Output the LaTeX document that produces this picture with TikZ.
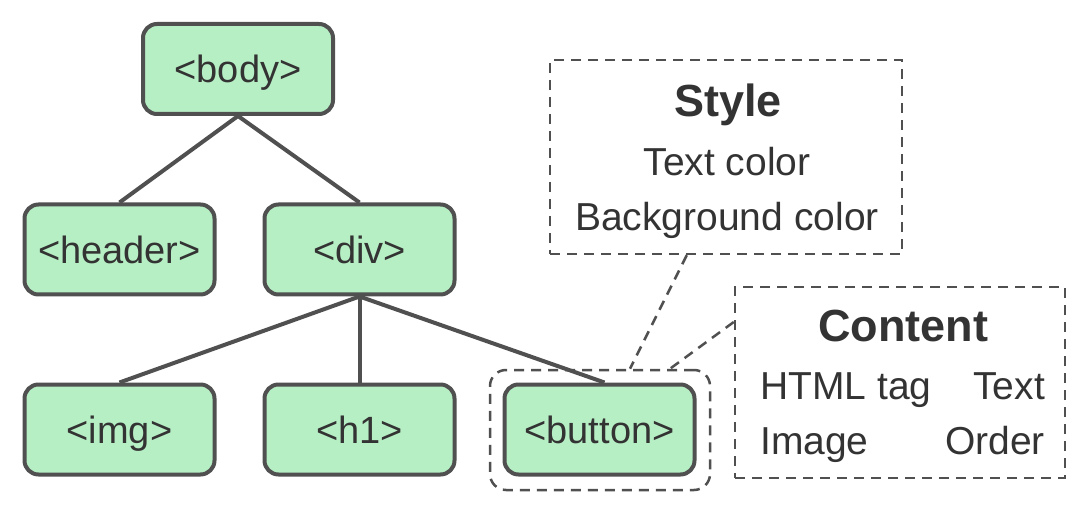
\documentclass[tikz,border=0pt]{standalone}
\usepackage{fontspec}
\setmainfont{Liberation Sans}
\usetikzlibrary{calc}
\begin{document}
\begin{tikzpicture}[x=1pt,y=-1pt,
  tag/.style={draw=edgecol, line width=4pt, fill=nodefill, rounded corners=14pt,
    minimum width=190pt, minimum height=90pt, inner sep=0pt, text=textcol,
    text depth=0pt, font=\fontsize{38}{44}\selectfont},
  edge/.style={draw=edgecol, line width=4pt},
  dbox/.style={draw=edgecol, line width=2.5pt, dash pattern=on 10pt off 7pt, inner sep=0pt},
  lbl/.style={text=textcol, font=\fontsize{39}{44}\selectfont, inner sep=0pt, anchor=base},
  ttl/.style={text=textcol, font=\fontsize{45}{50}\selectfont\bfseries, inner sep=0pt, anchor=base}
]
\definecolor{edgecol}{HTML}{505050}
\definecolor{nodefill}{HTML}{B7EFC5}
\definecolor{textcol}{HTML}{333333}
\useasboundingbox (0,0) rectangle (1091,510);
% dashed group around button
\node[dbox, rounded corners=16pt, minimum width=220pt, minimum height=120pt] (grp) at (600,430) {};
% Style box
\node[dbox, minimum width=352pt, minimum height=194pt] (style) at (726,157) {};
\node[ttl] (styleT) at (728,117) {Style};
\node[lbl] (tc) at (727,176) {Text color};
\node[lbl] (bc) at (727,231) {Background color};
% Content box
\node[dbox, minimum width=330pt, minimum height=191pt] (content) at (900,382.5) {};
\node[ttl] (contentT) at (903,341) {Content};
\node[lbl, anchor=base west] (html) at (760,399) {HTML tag};
\node[lbl, anchor=base east] (txt) at (1045,399) {Text};
\node[lbl, anchor=base west] (image) at (760,454) {Image};
\node[lbl, anchor=base east] (order) at (1045,454) {Order};
% tree nodes
\node[tag] (body) at (238,69) {<body>};
\node[tag] (header) at (119.5,249.5) {<header>};
\node[tag] (div) at (359.5,249.5) {<div>};
\node[tag] (img) at (119.5,429.5) {<img>};
\node[tag] (h1) at (359.5,429.5) {<h1>};
\node[tag] (button) at (599.5,429.5) {<button>};
% edges (behind nodes)
\begin{scope}[on background layer/.style={}]
\end{scope}
\draw[edge] (body.south) -- (header.north);
\draw[edge] (body.south) -- (div.north);
\draw[edge] (div.south) -- (img.north);
\draw[edge] (div.south) -- (h1.north);
\draw[edge] (div.south) -- ($(button.north)+(5,0)$);
% dashed callout connectors
\draw[dbox] ($(style.south west)+(138,0)$) -- ($(grp.north)+(30,0)$);
\draw[dbox] ($(content.west)+(0,-60.5)$) -- ($(grp.north)+(70,0)$);
\end{tikzpicture}
\end{document}
